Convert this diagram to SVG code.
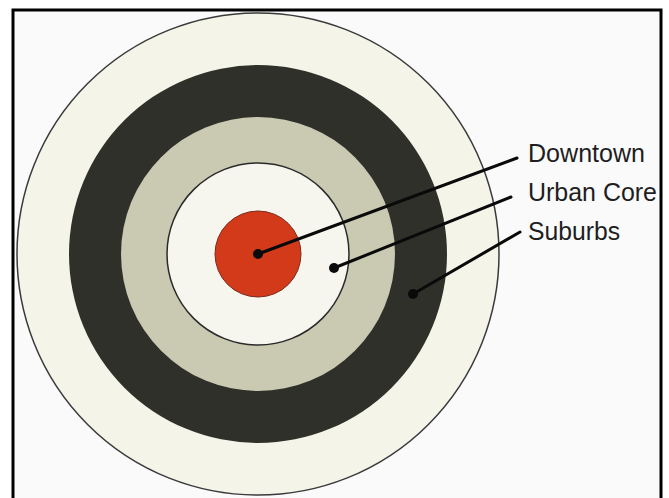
<svg xmlns="http://www.w3.org/2000/svg" width="669" height="498" viewBox="0 0 669 498">
  <style>
    .lbl { font-family: "Liberation Sans", Arial, sans-serif; font-size: 25px; fill: #1e1e1e; }
    .conn { stroke: #0a0a0a; stroke-width: 3; stroke-linecap: round; fill: none; }
    .dot { fill: #0a0a0a; }
  </style>
  <rect x="0" y="0" width="669" height="498" fill="#ffffff"/>
  <rect x="13" y="10" width="648" height="500" fill="#fafafa" stroke="#000" stroke-width="3"/>
  <g id="outer-ring">
    <circle cx="258" cy="254" r="241" fill="#f4f4e9" stroke="#3a3a3a" stroke-width="1.5"/>
  </g>
  <g id="suburbs-ring">
    <circle cx="258" cy="254" r="189" fill="#30302b"/>
  </g>
  <g id="urban-ring">
    <circle cx="258" cy="254" r="137" fill="#c9cab1"/>
  </g>
  <g id="urban-core">
    <circle cx="258" cy="254" r="91" fill="#f6f6ee" stroke="#2a2a2a" stroke-width="1.5"/>
  </g>
  <g id="downtown">
    <circle cx="258" cy="254" r="43" fill="#d33a1a" stroke="#7a2a1a" stroke-width="1"/>
  </g>
  <g id="connectors">
    <line class="conn" x1="258" y1="254" x2="517" y2="158"/>
    <line class="conn" x1="334" y1="268" x2="511" y2="197"/>
    <line class="conn" x1="413" y1="294" x2="520" y2="232"/>
    <circle class="dot" cx="258" cy="254" r="5"/>
    <circle class="dot" cx="334" cy="268" r="5"/>
    <circle class="dot" cx="413" cy="294" r="5"/>
  </g>
  <g id="label-downtown">
    <text class="lbl" x="528" y="162" textLength="117" lengthAdjust="spacingAndGlyphs">Downtown</text>
  </g>
  <g id="label-urban-core">
    <text class="lbl" x="528" y="201" textLength="129" lengthAdjust="spacingAndGlyphs">Urban Core</text>
  </g>
  <g id="label-suburbs">
    <text class="lbl" x="528" y="240" textLength="92" lengthAdjust="spacingAndGlyphs">Suburbs</text>
  </g>
</svg>
